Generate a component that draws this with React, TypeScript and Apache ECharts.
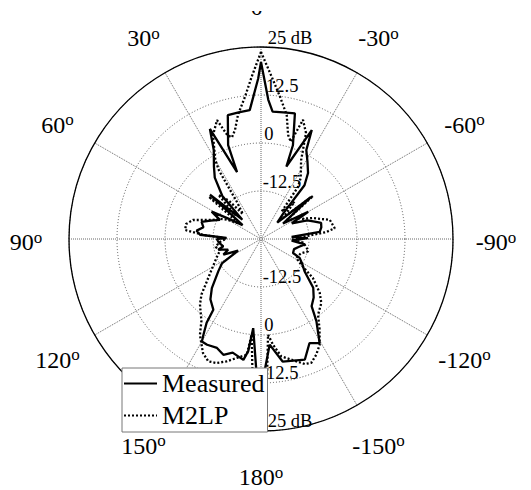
import React, { useEffect, useRef } from 'react';
import * as echarts from 'echarts';

// Angles in degrees, counter-clockwise from the top (0..360, 360 = 0)
const measuredAngles = [
  0, 1, 5, 10, 15, 19.3, 19.7, 24.9, 28, 33, 37, 42, 44, 47, 49, 53, 58, 61, 65, 70,
  74, 78.5, 82.6, 86, 88, 90, 95, 101, 104, 108, 112.6, 117, 122, 127, 135, 140, 146, 147,
  149, 150, 153, 158, 162, 166, 171.7, 173.5, 175, 178, 180,
  181.7, 184.7, 190, 195, 200, 205, 209.4, 214, 217, 222, 227, 233.5, 239, 244, 246.4,
  253, 258, 263, 267, 271, 274, 277, 281, 285, 288, 292, 297, 300, 305, 310, 315, 319,
  321, 324.5, 329, 333, 335, 340.7, 341.2, 344.9, 350, 354.8, 357, 360,
];
const measuredDb = [
  21.1, 16.8, 8.7, 8.5, 8.4, 0.9, -6.5, 6.6, 1.2, -2.5, -5, -10, -18, -14, -7.4, -19, -15, -10.3, -13.2, -11,
  -8.9, -9.7, -8.1, -9.1, -16, -13.5, -14, -15, -13.5, -16, -14.4, -18.3, -13, -11.1, -6.9, -4.5, -2.8, 1.0,
  4.1, 5.8, 5.9, 5.6, 6.7, 5.5, 6.8, 4.4, -1.7, 9.5, 12,
  9, 2.6, 7.4, 7.8, 8.4, 4.9, 6.1, 0.8, -3.1, -4.5, -6.4, -10.9, -12.5, -13.8, -15.9,
  -16, -15, -13.5, -17, -12.8, -17, -9.6, -9, -8.8, -10.3, -12, -16, -10.8, -18, -8, -19, -16,
  -7, -3.9, -1.5, 1, 6.3, -5, 0.8, 8.9, 8.5, 8.3, 11.3, 21.1,
];

const m2lpAngles = [
  0, 3.3, 6.4, 10.5, 13.4, 16, 18, 20.3, 24.8, 30, 31.5, 33, 36, 40, 44, 47, 51, 55, 60, 64,
  68.8, 74.4, 78.7, 83.2, 86, 89, 95, 100, 105, 113, 120, 126.5, 133, 137, 144, 147.5, 153,
  156.7, 160.3, 164.3, 168.5, 173, 174.4, 176.5, 180,
  182.5, 184.2, 186.5, 189.8, 194.1, 199.3, 202.1, 205.5, 209, 213, 217, 223.3, 227.4, 233.1,
  237.5, 241.7, 250, 255.3, 260, 265, 269, 273, 276, 278.3, 285.5, 292, 296, 300, 306, 309.6,
  314, 318, 323, 324.6, 327, 333, 337, 340.6, 343, 345.4, 348.3, 352.4, 356.2, 360,
];
const m2lpDb = [
  23.7, 17.3, 12.3, 7.9, 4.2, 2.5, 3.5, 8, 4.8, -1.2, -4, -13.5, -17, -12, -9, -16, -7.5, -18, -15, -13,
  -11.3, -6.6, -5.1, -5.1, -10, -16, -14, -13, -14, -12.4, -10.5, -7.9, -3.8, -1.7, 1.4, 4.6, 8.3,
  9.7, 9.3, 8.1, 6.6, 5.4, 0, 11, 14,
  11, 0, 2.7, 6, 7.4, 9.5, 9.8, 8.4, 6.5, 3, -0.3, -2.1, -4.2, -8.1,
  -12.6, -14.6, -14, -12.3, -13, -14, -17, -14, -8, -5.6, -6.4, -10.4, -13, -14, -17, -7.4,
  -17, -12, -16, -8.4, -6, -2, 5, 7.9, 1.5, 3.0, 8.0, 12.4, 17.3, 23.7,
];

const ringTicks = [-25, -12.5, 0, 12.5, 25];
const angleTicks = [0, 30, 60, 90, 120, 150, 180, 210, 240, 270, 300, 330];
const angleTickLabels = ['0', '30', '60', '90', '120', '150', '180', '-150', '-120', '-90', '-60', '-30'];

const CX = 261;
const CY = 239;
const R = 192;
const R_LABEL = 235;
const FONT = 'Liberation Serif';

const ringLabel = (v: number) => (v === ringTicks[0] ? '' : v === ringTicks[ringTicks.length - 1] ? `${v} dB` : String(v));

export default function App() {
  const ref = useRef<HTMLDivElement>(null);
  useEffect(() => {
    if (!ref.current) return;
    const chart = echarts.init(ref.current, undefined, { renderer: 'svg' });
    const radiusBase = {
      type: 'value' as const,
      min: ringTicks[0],
      max: ringTicks[ringTicks.length - 1],
      interval: 12.5,
      axisLine: { show: false },
      axisTick: { show: false },
    };
    const labelAxis = (polarIndex: number) => ({
      ...radiusBase,
      polarIndex,
      splitLine: { show: false },
      axisLabel: {
        show: true,
        margin: 0,
        align: 'left',
        verticalAlign: 'bottom',
        fontFamily: FONT,
        fontSize: 18.5,
        color: '#000',
        formatter: ringLabel,
      },
    });
    const angleGraphics: any[] = angleTicks.map((a, i) => {
      const rad = (a * Math.PI) / 180;
      return {
        type: 'text',
        x: CX - R_LABEL * Math.sin(rad),
        y: CY - R_LABEL * Math.cos(rad) + 3,
        style: {
          text: `{n|${angleTickLabels[i]}}{s|o}`,
          align: 'center',
          verticalAlign: 'middle',
          fill: '#000',
          rich: {
            n: { fontFamily: FONT, fontSize: 24, fill: '#000' },
            s: { fontFamily: FONT, fontSize: 17, fill: '#000', padding: [0, 0, 10, 0] },
          },
        },
        z: 10,
      };
    });
    angleGraphics.push({
      type: 'rect',
      shape: { x: 0, y: 0, width: 531, height: 11 },
      style: { fill: '#fff' },
      z: 20,
    });

    chart.setOption({
      animation: false,
      backgroundColor: '#fff',
      textStyle: { fontFamily: FONT },
      polar: [
        { center: [CX, CY], radius: R },
        { center: [CX, CY], radius: R },
        { center: [CX, CY], radius: R },
      ],
      angleAxis: [
        {
          polarIndex: 0,
          type: 'value',
          min: 0,
          max: 360,
          interval: 30,
          startAngle: 90,
          clockwise: false,
          z: 1,
          axisLine: { show: true, lineStyle: { color: '#000', width: 1.3 } },
          axisTick: { show: false },
          axisLabel: { show: false },
          splitLine: { show: true, lineStyle: { color: '#666', width: 1, type: [1, 1] } },
        },
        { polarIndex: 1, type: 'value', min: 0, max: 360, startAngle: 88, show: false },
        { polarIndex: 2, type: 'value', min: 0, max: 360, startAngle: 272, show: false },
      ],
      radiusAxis: [
        {
          ...radiusBase,
          polarIndex: 0,
          z: 0,
          axisLabel: { show: false },
          splitLine: { show: true, lineStyle: { color: '#555', width: 1, type: [1, 2] } },
        },
        labelAxis(1),
        labelAxis(2),
      ],
      legend: {
        orient: 'vertical',
        left: 122,
        top: 368,
        backgroundColor: '#fff',
        borderColor: '#777',
        borderWidth: 1,
        padding: [1, 3, 2, 1],
        itemWidth: 33,
        itemHeight: 14,
        itemGap: 3,
        itemStyle: { color: 'transparent', borderWidth: 0, opacity: 0 },
        textStyle: { fontFamily: FONT, fontSize: 26, color: '#000', lineHeight: 29 },
        data: ['Measured', 'M2LP'],
      },
      series: [
        {
          type: 'line',
          name: 'Measured',
          coordinateSystem: 'polar',
          polarIndex: 0,
          symbol: 'none',
          data: measuredAngles.map((a, i) => [measuredDb[i], a]),
          lineStyle: { color: '#000', width: 2.3 },
          itemStyle: { color: '#000' },
          z: 3,
        },
        {
          type: 'line',
          name: 'M2LP',
          coordinateSystem: 'polar',
          polarIndex: 0,
          symbol: 'none',
          data: m2lpAngles.map((a, i) => [m2lpDb[i], a]),
          lineStyle: { color: '#000', width: 2.3, type: [2, 2] },
          itemStyle: { color: '#000' },
          z: 3,
        },
      ],
      graphic: angleGraphics,
    });
    return () => chart.dispose();
  }, []);
  return <div ref={ref} style={{ position: 'fixed', left: 0, top: 0, width: 531, height: 490, background: '#fff' }} />;
}
